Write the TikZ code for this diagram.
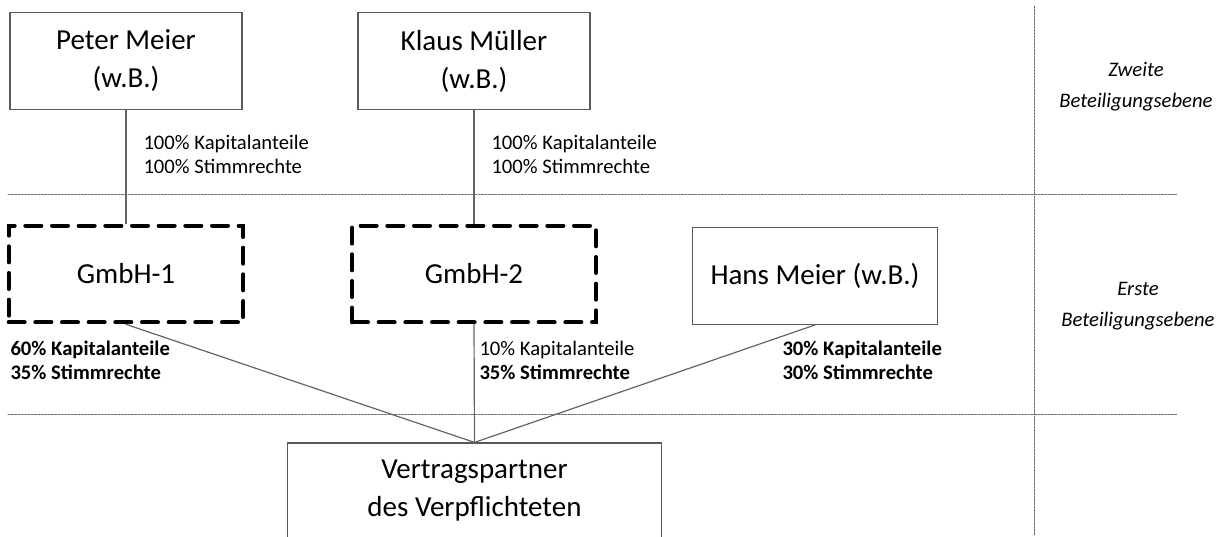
\documentclass[tikz,border=0pt]{standalone}
\usepackage{fontspec}
\setmainfont{Carlito}
\usepackage{tikz}
\definecolor{boxgray}{RGB}{89, 89, 89}
\definecolor{linkgray}{RGB}{100, 100, 100}
\definecolor{sepgray}{RGB}{110, 110, 110}
\def\bigsize{\fontsize{21.75}{28.5}\selectfont}
\def\smallsize{\fontsize{15.5}{18}\selectfont}
\def\sidesize{\fontsize{15.5}{23.25}\selectfont}
\tikzset{
    personbox/.style={draw=boxgray, line width=0.9pt, align=center, font=\bigsize,
        minimum width=174pt, minimum height=72.5pt},
    gmbhbox/.style={draw=black, line width=3pt, dash pattern=on 12pt off 8pt,
        align=center, font=\bigsize, minimum height=72.5pt},
    sharetext/.style={anchor=west, align=left, font=\smallsize, inner sep=0pt},
    levellabel/.style={align=center, font=\sidesize\itshape, inner sep=0pt},
    levelline/.style={draw=sepgray, line width=0.75pt, dash pattern=on 1.5pt off 1pt},
    link/.style={draw=linkgray, line width=0.9pt}
}

\begin{document}
\begin{tikzpicture}[x=0.75pt, y=-0.75pt, line width=0.75pt, line cap=round]

                 \clip (0, 0) rectangle (1227, 536);

                 \draw[levelline] (8, 194) -- (1177, 194);
                 \draw[levelline] (8, 414) -- (1177, 414);
                 \draw[levelline] (1034, 6) -- (1034, 536);

                 \node[levellabel] (zweite) at (1136, 87) {Zweite\\Beteiligungsebene};
                 \node[levellabel] (erste) at (1138, 306) {Erste\\Beteiligungsebene};

                 \node[personbox] (peter) at (126, 61) {Peter Meier\\(w.B.)};
                 \node[personbox] (klaus) at (474, 61) {Klaus Müller\\(w.B.)};

                 \node[gmbhbox, minimum width=176pt] (gmbha) at (126, 274) {GmbH-1};
                 \node[gmbhbox, minimum width=183pt] (gmbhb) at (474, 274) {GmbH-2};
                 \node[personbox, minimum width=184pt] (hans) at (815, 276) {Hans Meier (w.B.)};

                 \node[personbox, minimum width=281pt, minimum height=72pt] (partner) at (474.5, 491)
                 {Vertragspartner\\des Verpflichteten};

                 \node[sharetext] (sharepeter) at (143, 154) {100\% Kapitalanteile\\100\% Stimmrechte};
                 \node[sharetext] (shareklaus) at (491, 154) {100\% Kapitalanteile\\100\% Stimmrechte};
                 \node[sharetext, font=\smallsize\bfseries] (sharea) at (10, 360)
                 {60\% Kapitalanteile\\35\% Stimmrechte};
                 \node[sharetext] (shareb) at (479, 360) {10\% Kapitalanteile\\\textbf{35\% Stimmrechte}};
                 \node[sharetext, font=\smallsize\bfseries] (sharehans) at (782, 360)
                 {30\% Kapitalanteile\\30\% Stimmrechte};

                 \draw[link] (peter) -- (gmbha);
                 \draw[link] (klaus) -- (gmbhb);
                 \draw[link] (gmbha.south) -- (partner.north);
                 \draw[link] (gmbhb.south) -- (partner.north);
                 \draw[link] (hans.south) -- (partner.north);

             \end{tikzpicture}
\end{document}
